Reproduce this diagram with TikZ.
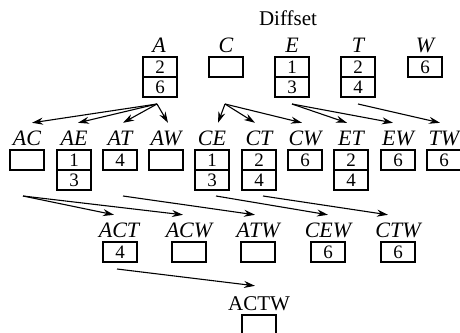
\documentclass[tikz,border=0pt]{standalone}
\usepackage{fontspec}
\setmainfont{Liberation Serif}
\usetikzlibrary{arrows.meta}
\begin{document}
\begin{tikzpicture}[x=1pt,y=-1pt,
  cell/.style={draw, line width=1.5pt, minimum width=34pt, minimum height=20pt,
    inner sep=0pt, font=\fontsize{19}{19}\selectfont},
  lbl/.style={inner sep=0pt, text height=14pt, text depth=0pt,
    font=\fontsize{22}{22}\selectfont\itshape},
  rlbl/.style={lbl, font=\fontsize{21}{21}\selectfont},
  arr/.style={-{Stealth[length=11pt,width=7pt]}, line width=1.1pt}]
\useasboundingbox (0,0) rectangle (460,332);

\node[rlbl] (title) at (288,18) {Diffset};

% single items
\node[lbl] (A) at (159,45) {A};
\node[cell] (A1) at (160,67) {2};
\node[cell] (A2) at (160,87) {6};
\node[lbl] (C) at (226,45) {C};
\node[cell] (C1) at (226,67) {};
\node[lbl] (E) at (292,45) {E};
\node[cell] (E1) at (292,67) {1};
\node[cell] (E2) at (292,87) {3};
\node[lbl] (T) at (358,45) {T};
\node[cell] (T1) at (358,67) {2};
\node[cell] (T2) at (358,87) {4};
\node[lbl] (W) at (425,45) {W};
\node[cell] (W1) at (425,67) {6};

% pairs
\node[lbl] (AC) at (27,138) {AC};
\node[cell] (AC1) at (27,160) {};
\node[lbl] (AE) at (74,138) {AE};
\node[cell] (AE1) at (74,160) {1};
\node[cell] (AE2) at (74,180) {3};
\node[lbl] (AT) at (120,138) {AT};
\node[cell] (AT1) at (120,160) {4};
\node[lbl] (AW) at (166,138) {AW};
\node[cell] (AW1) at (166,160) {};
\node[lbl] (CE) at (212,138) {CE};
\node[cell] (CE1) at (212,160) {1};
\node[cell] (CE2) at (212,180) {3};
\node[lbl] (CT) at (259,138) {CT};
\node[cell] (CT1) at (259,160) {2};
\node[cell] (CT2) at (259,180) {4};
\node[lbl] (CW) at (305,138) {CW};
\node[cell] (CW1) at (305,160) {6};
\node[lbl] (ET) at (351,138) {ET};
\node[cell] (ET1) at (351,160) {2};
\node[cell] (ET2) at (351,180) {4};
\node[lbl] (EW) at (398,138) {EW};
\node[cell] (EW1) at (398,160) {6};
\node[lbl] (TW) at (444,138) {TW};
\node[cell] (TW1) at (444,160) {6};

% triples
\node[lbl] (ACT) at (119,230) {ACT};
\node[cell] (ACT1) at (120,252) {4};
\node[lbl] (ACW) at (189,230) {ACW};
\node[cell] (ACW1) at (189,252) {};
\node[lbl] (ATW) at (258,230) {ATW};
\node[cell] (ATW1) at (258,252) {};
\node[lbl] (CEW) at (328,230) {CEW};
\node[cell] (CEW1) at (328,252) {6};
\node[lbl] (CTW) at (398,230) {CTW};
\node[cell] (CTW1) at (398,252) {6};

% quadruple
\node[rlbl] (ACTW) at (259,303) {ACTW};
\node[cell] (ACTW1) at (259,325) {};

% arrow origins below the boxes
\coordinate (Ao) at (157,104);
\coordinate (Co) at (225,104);
\coordinate (Eo) at (292,104);
\coordinate (To) at (358,104);
\coordinate (ACo) at (23,196);
\coordinate (ATo) at (123,196);
\coordinate (CEo) at (216,196);
\coordinate (CTo) at (263,196);
\coordinate (ACTo) at (117,269);

\draw[arr] (Ao) -- ([xshift=5pt,yshift=8pt]AC.north);
\draw[arr] (Ao) -- ([xshift=4pt,yshift=8pt]AE.north);
\draw[arr] (Ao) -- ([xshift=3pt,yshift=8pt]AT.north);
\draw[arr] (Ao) -- ([xshift=2pt,yshift=8pt]AW.north);
\draw[arr] (Co) -- ([xshift=6pt,yshift=8pt]CE.north);
\draw[arr] (Co) -- ([xshift=-4pt,yshift=8pt]CT.north);
\draw[arr] (Co) -- ([xshift=-3pt,yshift=8pt]CW.north);
\draw[arr] (Eo) -- ([xshift=-4pt,yshift=8pt]ET.north);
\draw[arr] (Eo) -- ([xshift=-5pt,yshift=8pt]EW.north);
\draw[arr] (To) -- ([xshift=-4pt,yshift=8pt]TW.north);

\draw[arr] (ACo) -- ([xshift=-5pt,yshift=8pt]ACT.north);
\draw[arr] (ACo) -- ([xshift=-6pt,yshift=8pt]ACW.north);
\draw[arr] (ATo) -- ([xshift=-3pt,yshift=8pt]ATW.north);
\draw[arr] (CEo) -- ([xshift=0pt,yshift=8pt]CEW.north);
\draw[arr] (CTo) -- ([xshift=-10pt,yshift=8pt]CTW.north);

\draw[arr] (ACTo) -- ([xshift=-4pt,yshift=10pt]ACTW.north);
\end{tikzpicture}
\end{document}
